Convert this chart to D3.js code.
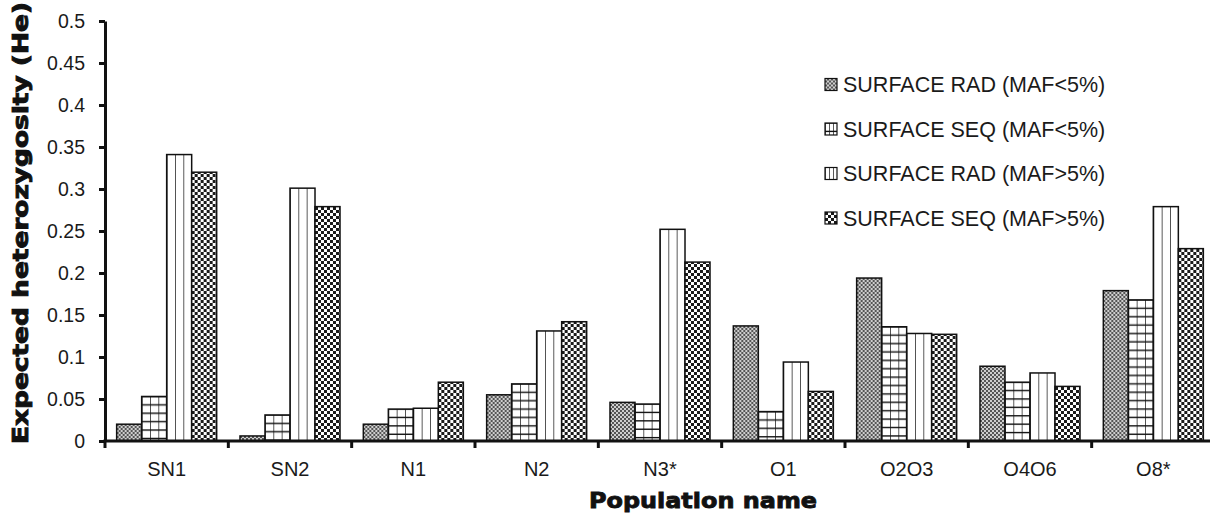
<!DOCTYPE html>
<html>
<head>
<meta charset="utf-8">
<script src="https://cdn.jsdelivr.net/npm/d3@7"></script>
<style>
  html, body { margin: 0; padding: 0; background: #fff; }
  svg { display: block; font-family: "Liberation Sans", Arial, sans-serif; }
</style>
</head>
<body>
<div id="chart"></div>
<script>
// populations on the x axis
const populations = ["SN1", "SN2", "N1", "N2", "N3*", "O1", "O2O3", "O4O6", "O8*"];

// expected heterozygosity
const radLow  = [0.020, 0.006, 0.020, 0.055, 0.046, 0.137, 0.194, 0.089, 0.179];
const seqLow  = [0.053, 0.031, 0.038, 0.068, 0.044, 0.035, 0.136, 0.070, 0.168];
const radHigh = [0.341, 0.301, 0.039, 0.131, 0.252, 0.094, 0.128, 0.081, 0.279];
const seqHigh = [0.320, 0.279, 0.070, 0.142, 0.213, 0.059, 0.127, 0.065, 0.229];

const seriesNames = [
  "SURFACE RAD (MAF<5%)",
  "SURFACE SEQ (MAF<5%)",
  "SURFACE RAD (MAF>5%)",
  "SURFACE SEQ (MAF>5%)"
];
const seriesValues = [radLow, seqLow, radHigh, seqHigh];
const seriesFill = ["url(#stipple)", "url(#grid)", "url(#vstripe)", "url(#checker)"];

const yTickValues = [0, 0.05, 0.1, 0.15, 0.2, 0.25, 0.3, 0.35, 0.4, 0.45, 0.5];

const W = 1210, H = 513;
const plot = { left: 105, right: 1215, top: 21, bottom: 441 };

const svg = d3.select("#chart").append("svg")
  .attr("width", W)
  .attr("height", H);

// --- fill patterns (greyscale hatchings like the printed figure)
const defs = svg.append("defs");

const stipple = defs.append("pattern")
  .attr("id", "stipple")
  .attr("patternUnits", "userSpaceOnUse")
  .attr("width", 4).attr("height", 4);
stipple.append("rect").attr("width", 4).attr("height", 4).attr("fill", "#cfcfcf");
stipple.append("rect").attr("width", 2).attr("height", 2).attr("fill", "#555");
stipple.append("rect").attr("x", 2).attr("y", 2).attr("width", 2).attr("height", 2).attr("fill", "#555");

const checker = defs.append("pattern")
  .attr("id", "checker")
  .attr("patternUnits", "userSpaceOnUse")
  .attr("width", 6).attr("height", 6);
checker.append("rect").attr("width", 6).attr("height", 6).attr("fill", "#fff");
checker.append("rect").attr("width", 3).attr("height", 3).attr("fill", "#1a1a1a");
checker.append("rect").attr("x", 3).attr("y", 3).attr("width", 3).attr("height", 3).attr("fill", "#1a1a1a");

// vertical stripes: three columns per bar, tied to the bar box
const vstripe = defs.append("pattern")
  .attr("id", "vstripe")
  .attr("patternUnits", "objectBoundingBox")
  .attr("width", 1 / 3).attr("height", 1);
vstripe.append("rect").attr("width", 40).attr("height", 1000).attr("fill", "#fff");
vstripe.append("rect").attr("x", -0.7).attr("width", 1.4).attr("height", 1000).attr("fill", "#111");

// grid: same columns plus rows every ~8.4px from the bar top
const grid = defs.append("pattern")
  .attr("id", "grid")
  .attr("patternUnits", "objectBoundingBox")
  .attr("width", 1 / 3).attr("height", 1);
grid.append("rect").attr("width", 40).attr("height", 1000).attr("fill", "#fff");
grid.append("rect").attr("x", -0.7).attr("width", 1.4).attr("height", 1000).attr("fill", "#111");
grid.selectAll("rect.row")
  .data(d3.range(0, 60))
  .enter().append("rect")
  .attr("class", "row")
  .attr("y", (d) => d * 8.4 - 0.7)
  .attr("width", 40).attr("height", 1.4)
  .attr("fill", "#111");

// --- scales
const x0 = d3.scaleBand()
  .domain(populations)
  .range([plot.left, plot.right])
  .paddingInner(0.189)
  .paddingOuter(0.0945);

const x1 = d3.scaleBand()
  .domain(d3.range(seriesNames.length))
  .range([0, x0.bandwidth()]);

const y = d3.scaleLinear()
  .domain([0, 0.5])
  .range([plot.bottom, plot.top]);

// --- bars
const groups = svg.append("g")
  .selectAll("g")
  .data(populations)
  .enter().append("g")
  .attr("transform", (d) => `translate(${x0(d)},0)`);

groups.selectAll("rect")
  .data((d, i) => seriesValues.map((vals, s) => ({ s, v: vals[i] })))
  .enter().append("rect")
  .attr("x", (d) => x1(d.s))
  .attr("y", (d) => y(d.v))
  .attr("width", x1.bandwidth())
  .attr("height", (d) => y(0) - y(d.v))
  .attr("fill", (d) => seriesFill[d.s])
  .attr("stroke", "#111")
  .attr("stroke-width", 1.5);

// --- y axis
const yAxis = svg.append("g")
  .attr("transform", `translate(${plot.left},0)`)
  .call(d3.axisLeft(y)
    .tickValues(yTickValues)
    .tickFormat((d) => String(d))
    .tickSize(6)
    .tickSizeOuter(0)
    .tickPadding(14));
yAxis.select(".domain").attr("stroke", "#111").attr("stroke-width", 3);
yAxis.selectAll(".tick line").attr("stroke", "#111").attr("stroke-width", 3);
yAxis.selectAll(".tick text")
  .attr("font-size", 19.5)
  .attr("fill", "#1a1a1a")
  .attr("font-family", "'Liberation Sans', Arial, sans-serif");

// --- x axis: labels centred in groups, ticks on group boundaries
const xAxis = svg.append("g")
  .attr("transform", `translate(0,${plot.bottom})`)
  .call(d3.axisBottom(x0).tickSize(0).tickPadding(21));
xAxis.select(".domain").remove();
xAxis.selectAll(".tick text")
  .attr("font-size", 20)
  .attr("fill", "#1a1a1a")
  .attr("font-family", "'Liberation Sans', Arial, sans-serif");

const half = (x0.step() - x0.bandwidth()) / 2;
const bounds = populations.map((p) => x0(p) - half).concat([x0(populations[populations.length - 1]) + x0.bandwidth() + half]);

svg.append("g")
  .selectAll("line")
  .data(bounds)
  .enter().append("line")
  .attr("x1", (d) => d).attr("x2", (d) => d)
  .attr("y1", plot.bottom).attr("y2", plot.bottom + 7)
  .attr("stroke", "#111").attr("stroke-width", 3);

svg.append("line")
  .attr("x1", plot.left - 1.5).attr("x2", plot.right)
  .attr("y1", plot.bottom).attr("y2", plot.bottom)
  .attr("stroke", "#111").attr("stroke-width", 3);

// --- axis titles (heavy, condensed look of the original)
svg.append("text")
  .attr("x", 589).attr("y", 508)
  .attr("textLength", 228)
  .attr("lengthAdjust", "spacingAndGlyphs")
  .attr("font-family", "'DejaVu Sans', sans-serif")
  .attr("font-weight", "bold")
  .attr("font-size", 22)
  .attr("fill", "#111")
  .attr("stroke", "#111")
  .attr("stroke-width", 0.9)
  .text("Population name");

svg.append("text")
  .attr("transform", "translate(28,444) rotate(-90)")
  .attr("textLength", 442)
  .attr("lengthAdjust", "spacingAndGlyphs")
  .attr("font-family", "'DejaVu Sans', sans-serif")
  .attr("font-weight", "bold")
  .attr("font-size", 21)
  .attr("fill", "#111")
  .attr("stroke", "#111")
  .attr("stroke-width", 0.9)
  .text("Expected heterozygosity (He)");

// --- legend
const legendRows = [84.5, 129, 173.5, 218];
const legend = svg.append("g")
  .selectAll("g")
  .data(seriesNames)
  .enter().append("g")
  .attr("transform", (d, i) => `translate(825,${legendRows[i]})`);

legend.append("rect")
  .attr("x", 0).attr("y", -6)
  .attr("width", 12).attr("height", 12)
  .attr("fill", (d, i) => seriesFill[i])
  .attr("stroke", "#111")
  .attr("stroke-width", 1.2);

legend.append("text")
  .attr("x", 18).attr("y", 7.5)
  .attr("font-size", 21.5)
  .attr("fill", "#1a1a1a")
  .text((d) => d);
</script>
</body>
</html>
